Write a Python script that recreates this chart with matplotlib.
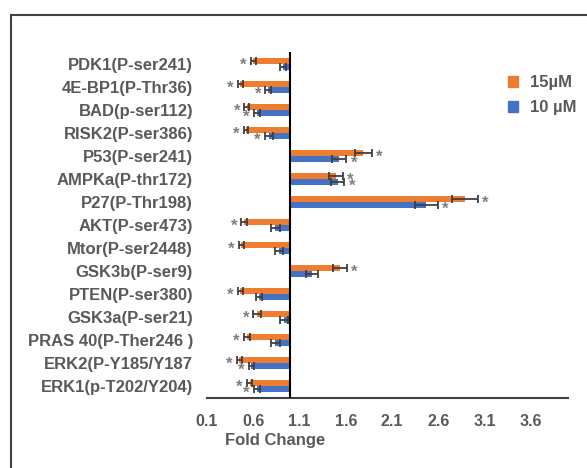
import matplotlib
matplotlib.use("Agg")
import matplotlib.pyplot as plt
from matplotlib.patches import Rectangle, Patch
import numpy as np

categories = ["PDK1(P-ser241)", "4E-BP1(P-Thr36)", "BAD(p-ser112)", "RISK2(P-ser386)",
              "P53(P-ser241)", "AMPKa(P-thr172)", "P27(P-Thr198)", "AKT(P-ser473)",
              "Mtor(P-ser2448)", "GSK3b(P-ser9)", "PTEN(P-ser380)", "GSK3a(P-ser21)",
              "PRAS 40(P-Ther246 )", "ERK2(P-Y185/Y187", "ERK1(p-T202/Y204)"]

val_15 = [0.60, 0.46, 0.53, 0.52, 1.79, 1.49, 2.89, 0.50, 0.47, 1.54, 0.46, 0.64, 0.53, 0.45, 0.56]
err_15 = [0.03, 0.03, 0.025, 0.025, 0.09, 0.075, 0.14, 0.03, 0.025, 0.075, 0.03, 0.04, 0.035, 0.03, 0.03]
sig_15 = [1, 1, 1, 1, 1, 1, 1, 1, 1, 1, 1, 1, 1, 1, 1]

val_10 = [0.92, 0.76, 0.64, 0.77, 1.53, 1.51, 2.47, 0.84, 0.88, 1.23, 0.66, 0.93, 0.84, 0.58, 0.64]
err_10 = [0.03, 0.03, 0.035, 0.045, 0.075, 0.075, 0.125, 0.045, 0.045, 0.065, 0.035, 0.04, 0.045, 0.03, 0.035]
sig_10 = [0, 1, 1, 1, 1, 1, 1, 0, 0, 0, 0, 0, 0, 1, 1]

xticks = [0.1, 0.6, 1.1, 1.6, 2.1, 2.6, 3.1, 3.6]
baseline = 1.0

ORANGE = "#ED7D31"
BLUE = "#4472C4"
GRAY = "#595959"
FONT = "Liberation Sans"

W, H = 587, 468
fig = plt.figure(figsize=(W / 100, H / 100), dpi=100)
ax = fig.add_axes([207 / W, 1 - 397.5 / H, (568 - 207) / W, (397.5 - 52.5) / H])

y = np.arange(len(categories))
bh = 0.26
off = 0.13

v15 = np.array(val_15); v10 = np.array(val_10)
e15 = np.array(err_15); e10 = np.array(err_10)

ax.barh(y - off, v15 - baseline, left=baseline, height=bh, color=ORANGE, zorder=2)
ax.barh(y + off, v10 - baseline, left=baseline, height=bh, color=BLUE, zorder=2)
ekw = dict(fmt="none", ecolor="#404040", elinewidth=1.3, capsize=3, capthick=1.3, zorder=3)
ax.errorbar(v15, y - off, xerr=e15, **ekw)
ax.errorbar(v10, y + off, xerr=e10, **ekw)

def stars(vals, errs, sigs, ys):
    for v, e, s, yy in zip(vals, errs, sigs, ys):
        if not s:
            continue
        if v >= baseline:
            x, dx, ha = v + e, 3, "left"
        else:
            x, dx, ha = v - e, -3, "right"
        ax.annotate("*", (x, yy), xytext=(dx, -3), textcoords="offset points",
                    ha=ha, va="center", fontsize=12, color="#7f7f7f",
                    family=FONT, fontweight="bold", zorder=4)

stars(v15, e15, sig_15, y - off)
stars(v10, e10, sig_10, y + off)

ax.axvline(baseline, color="black", lw=1.5, zorder=4)

ax.set_xlim(0.1, 4.0)
ax.set_ylim(len(categories) - 0.5, -0.5)
ax.set_xticks(xticks)
ax.set_xticklabels([f"{t:.1f}" for t in xticks])
ax.set_yticks(y)
ax.set_yticklabels(categories)
ax.tick_params(axis="both", length=0)
ax.tick_params(axis="y", pad=10)
ax.tick_params(axis="x", pad=12)
for lab in ax.get_yticklabels():
    lab.set_fontfamily(FONT); lab.set_fontweight("bold"); lab.set_color(GRAY); lab.set_fontsize(12)
for lab in ax.get_xticklabels():
    lab.set_fontfamily(FONT); lab.set_fontweight("bold"); lab.set_color(GRAY); lab.set_fontsize(11.5)

for s in ["top", "right", "left"]:
    ax.spines[s].set_visible(False)
ax.spines["bottom"].set_color("#404040")
ax.spines["bottom"].set_linewidth(1.5)

fig.text(275 / W, 1 - 441 / H, "Fold Change", ha="center", va="center",
         fontsize=12, fontweight="bold", color=GRAY, family=FONT)

handles = [Patch(color=ORANGE, label="15µM"), Patch(color=BLUE, label="10 µM")]
leg = fig.legend(handles=handles, loc="upper left", bbox_to_anchor=(500 / W, 1 - 67 / H),
                 frameon=False, borderpad=0, handlelength=0.6, handleheight=0.6,
                 handletextpad=0.7, labelspacing=0.6,
                 prop=dict(family=FONT, weight="bold", size=12))
for t in leg.get_texts():
    t.set_color(GRAY)

fig.patches.append(Rectangle((11 / W, -0.1), 1.2, 1 - 15 / H + 0.1, transform=fig.transFigure,
                             fill=False, ec="#404040", lw=1.5))

fig.savefig("out.png", dpi=100)
